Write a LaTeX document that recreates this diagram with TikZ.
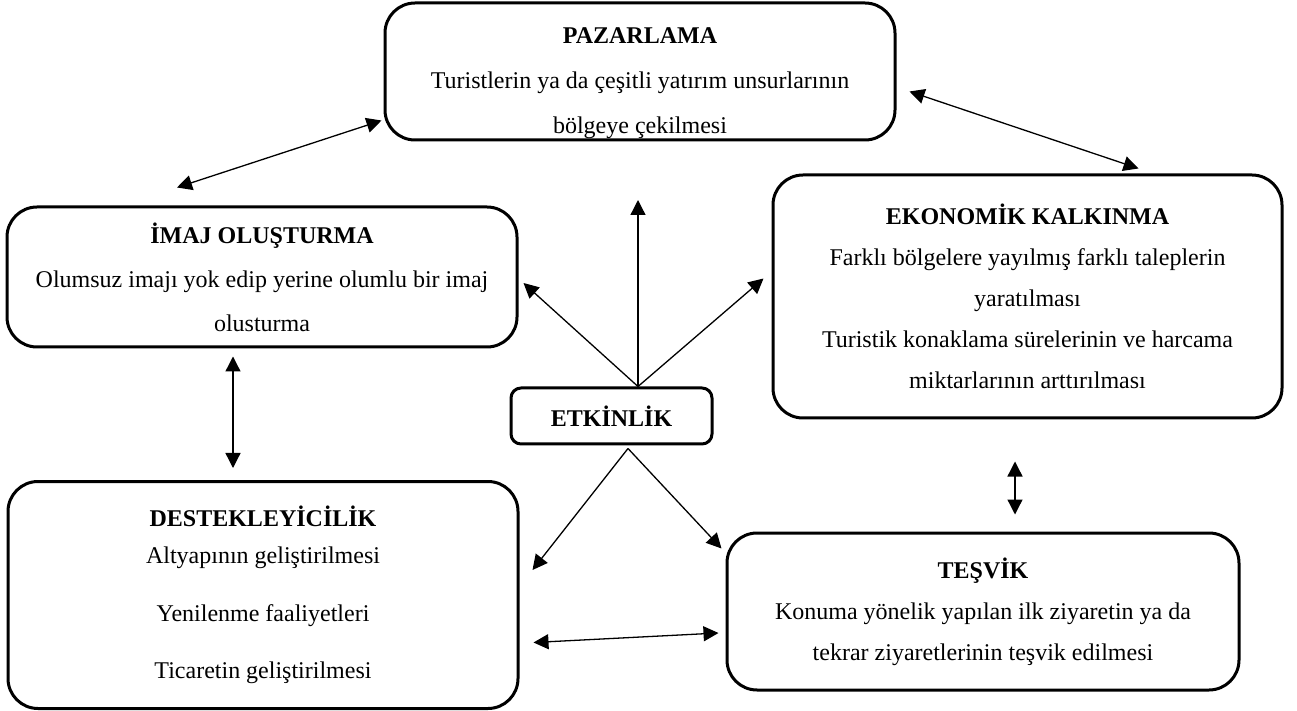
\documentclass[tikz,border=0pt]{standalone}
\usepackage{fontspec}
\setmainfont{Liberation Serif}
\usetikzlibrary{arrows.meta}

\tikzset{
  kutu/.style={draw, line width=1.5pt, rounded corners=15pt, align=center, inner sep=0pt,
    font=\fontsize{12}{20.5}\selectfont},
  ok/.style={-{Triangle[length=7.5pt,width=7.5pt]}, line width=0.65pt},
  cift/.style={{Triangle[length=7.5pt,width=7.5pt]}-{Triangle[length=7.5pt,width=7.5pt]}, line width=0.65pt}
}

\begin{document}
\begin{tikzpicture}[x=0.5pt,y=0.5pt,yscale=-1,xscale=1]
\useasboundingbox (0,0) rectangle (1297,711);

% Box: PAZARLAMA
\node[kutu, minimum width=255pt, minimum height=68.5pt, font=\fontsize{12}{22.5}\selectfont] (paz) at (640,71.5)
  {\rule{0pt}{20pt}\textbf{PAZARLAMA}\\ Turistlerin ya da çeşitli yatırım unsurlarının\\ bölgeye çekilmesi};
% Box: IMAJ
\node[kutu, minimum width=255pt, minimum height=70pt, font=\fontsize{12}{22}\selectfont] (imaj) at (262,277)
  {\textbf{İMAJ OLUŞTURMA}\\ Olumsuz imajı yok edip yerine olumlu bir imaj\\ olusturma};
% Box: EKONOMIK KALKINMA
\node[kutu, minimum width=254.5pt, minimum height=121.5pt] (eko) at (1027.5,296.5)
  {\textbf{EKONOMİK KALKINMA}\\ Farklı bölgelere yayılmış farklı taleplerin\\ yaratılması\\
   Turistik konaklama sürelerinin ve harcama\\ miktarlarının arttırılması};
% Box: ETKINLIK
\node[kutu, rounded corners=5pt, minimum width=100.5pt, minimum height=28pt] (etk) at (611.5,416)
  {\textbf{ETKİNLİK}};
% Box: DESTEKLEYICILIK
\node[kutu, minimum width=255pt, minimum height=113.5pt, font=\fontsize{12}{18.5}\selectfont] (dest) at (263,595)
  {\textbf{DESTEKLEYİCİLİK}\\ Altyapının geliştirilmesi\\[10.5pt] Yenilenme faaliyetleri\\[10pt] Ticaretin geliştirilmesi};
% Box: TESVIK
\node[kutu, minimum width=256pt, minimum height=78.5pt] (tesv) at (983,611.5)
  {\textbf{TEŞVİK}\\ Konuma yönelik yapılan ilk ziyaretin ya da\\ tekrar ziyaretlerinin teşvik edilmesi};

% free ends
\coordinate (etkust) at ([shift={(26.5,0)}]etk.north);
\coordinate (etkalt) at ([shift={(16.5,3)}]etk.south);
\coordinate (yukari) at (638,200);

% Arrows
\draw[cift] ([shift={(-85,-18)}]imaj.north) -- ([shift={(-2,-21)}]paz.south west);
\draw[cift] ([shift={(13,20)}]paz.east) -- ([shift={(111,-5)}]eko.north);
\draw[ok] (etkust) -- (yukari);
\draw[ok] (etkust) -- ([shift={(5,6)}]imaj.east);
\draw[ok] (etkust) -- ([shift={(-8,-18)}]eko.west);
\draw[ok] (etkalt) -- ([shift={(13,-25)}]dest.east);
\draw[ok] (etkalt) -- ([shift={(-4,17)}]tesv.north west);
\draw[cift] ([shift={(14,47.5)}]dest.east) -- ([shift={(-7,21.5)}]tesv.west);
\draw[cift] ([shift={(-29,8)}]imaj.south) -- ([shift={(-30,-12)}]dest.north);
\draw[cift] ([shift={(-12.5,42)}]eko.south) -- ([shift={(32,-17)}]tesv.north);

\end{tikzpicture}
\end{document}
